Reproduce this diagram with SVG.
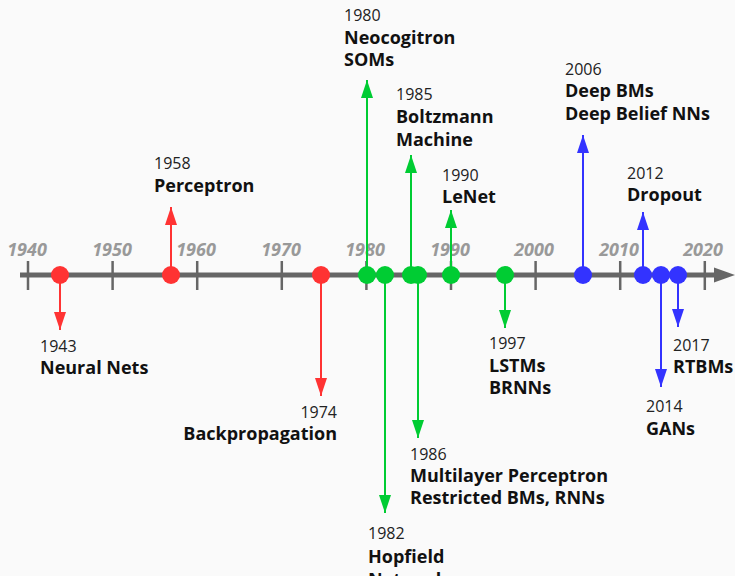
<svg xmlns="http://www.w3.org/2000/svg" width="735" height="576" viewBox="0 0 735 576">
  <style>
    .yr { font-family: "Open Sans", "Noto Sans", sans-serif; font-size: 18px; font-weight: 700; font-style: italic; fill: #999; text-anchor: middle; }
    .date { font-family: "Open Sans", "Noto Sans", sans-serif; font-size: 16px; fill: #222; }
    .name { font-family: "Open Sans", "Noto Sans", sans-serif; font-size: 18px; font-weight: 700; fill: #111; }
    .end { text-anchor: end; }
    .tick { stroke: #666; stroke-width: 2.5; }
    .red { fill: #ff3333; }
    .green { fill: #00cc33; }
    .blue { fill: #3333ff; }
    .lr { stroke: #ff3333; stroke-width: 2; fill: none; marker-end: url(#ah-red); }
    .lg { stroke: #00cc33; stroke-width: 2; fill: none; marker-end: url(#ah-green); }
    .lb { stroke: #3333ff; stroke-width: 2; fill: none; marker-end: url(#ah-blue); }
  </style>
  <defs>
    <marker id="ah-red" markerWidth="18" markerHeight="12" refX="18" refY="6" orient="auto" markerUnits="userSpaceOnUse" viewBox="0 0 18 12">
      <path d="M0,0 L18,6 L0,12 Z" fill="#ff3333"/>
    </marker>
    <marker id="ah-green" markerWidth="18" markerHeight="12" refX="18" refY="6" orient="auto" markerUnits="userSpaceOnUse" viewBox="0 0 18 12">
      <path d="M0,0 L18,6 L0,12 Z" fill="#00cc33"/>
    </marker>
    <marker id="ah-blue" markerWidth="18" markerHeight="12" refX="18" refY="6" orient="auto" markerUnits="userSpaceOnUse" viewBox="0 0 18 12">
      <path d="M0,0 L18,6 L0,12 Z" fill="#3333ff"/>
    </marker>
  </defs>
  <rect width="735" height="576" fill="#fafafa"/>

  <!-- time axis with decade ticks -->
  <g id="axis">
    <line x1="20" y1="275" x2="718" y2="275" stroke="#666" stroke-width="5"/>
    <path d="M714,267.5 L735,275 L714,282.5 Z" fill="#666"/>
    <line class="tick" x1="28" y1="261" x2="28" y2="290"/>
    <line class="tick" x1="112.6" y1="261" x2="112.6" y2="290"/>
    <line class="tick" x1="197.2" y1="261" x2="197.2" y2="290"/>
    <line class="tick" x1="281.8" y1="261" x2="281.8" y2="290"/>
    <line class="tick" x1="366.4" y1="261" x2="366.4" y2="290"/>
    <line class="tick" x1="451" y1="261" x2="451" y2="290"/>
    <line class="tick" x1="535.6" y1="261" x2="535.6" y2="290"/>
    <line class="tick" x1="620.2" y1="261" x2="620.2" y2="290"/>
    <line class="tick" x1="704.8" y1="261" x2="704.8" y2="290"/>
    <text class="yr" x="27" y="256">1940</text>
    <text class="yr" x="112" y="256">1950</text>
    <text class="yr" x="196" y="256">1960</text>
    <text class="yr" x="281" y="256">1970</text>
    <text class="yr" x="365" y="256">1980</text>
    <text class="yr" x="450" y="256">1990</text>
    <text class="yr" x="534" y="256">2000</text>
    <text class="yr" x="619" y="256">2010</text>
    <text class="yr" x="703" y="256">2020</text>
  </g>

  <!-- event stems -->
  <g id="connectors">
    <line class="lr" x1="60" y1="275" x2="60" y2="330"/>
    <line class="lr" x1="171" y1="275" x2="171" y2="207"/>
    <line class="lr" x1="321" y1="275" x2="321" y2="396"/>
    <line class="lg" x1="367" y1="275" x2="367" y2="80"/>
    <line class="lg" x1="385" y1="275" x2="385" y2="513"/>
    <line class="lg" x1="411" y1="275" x2="411" y2="155"/>
    <line class="lg" x1="418" y1="275" x2="418" y2="438"/>
    <line class="lg" x1="451" y1="275" x2="451" y2="210"/>
    <line class="lg" x1="505" y1="275" x2="505" y2="328"/>
    <line class="lb" x1="583" y1="275" x2="583" y2="135"/>
    <line class="lb" x1="643" y1="275" x2="643" y2="212"/>
    <line class="lb" x1="661" y1="275" x2="661" y2="387"/>
    <line class="lb" x1="678" y1="275" x2="678" y2="327"/>
  </g>

  <g id="e1943">
    <circle class="red" cx="60" cy="275" r="9"/>
    <text class="date" x="40" y="352">1943</text>
    <text class="name" x="40" y="374">Neural Nets</text>
  </g>
  <g id="e1958">
    <circle class="red" cx="171" cy="275" r="9"/>
    <text class="date" x="154" y="169">1958</text>
    <text class="name" x="154" y="192">Perceptron</text>
  </g>
  <g id="e1974">
    <circle class="red" cx="321" cy="275" r="9"/>
    <text class="date end" x="337" y="418">1974</text>
    <text class="name end" x="337" y="440">Backpropagation</text>
  </g>
  <g id="e1980">
    <circle class="green" cx="367" cy="275" r="9"/>
    <text class="date" x="344" y="21">1980</text>
    <text class="name" x="344" y="44">Neocogitron</text>
    <text class="name" x="344" y="66">SOMs</text>
  </g>
  <g id="e1982">
    <circle class="green" cx="385" cy="275" r="9"/>
    <text class="date" x="368" y="539">1982</text>
    <text class="name" x="368" y="563">Hopfield</text>
    <text class="name" x="368" y="586">Networks</text>
  </g>
  <g id="e1985">
    <circle class="green" cx="411" cy="275" r="9"/>
    <text class="date" x="396" y="100">1985</text>
    <text class="name" x="396" y="123">Boltzmann</text>
    <text class="name" x="396" y="146">Machine</text>
  </g>
  <g id="e1986">
    <circle class="green" cx="418" cy="275" r="9"/>
    <text class="date" x="410" y="460">1986</text>
    <text class="name" x="410" y="482">Multilayer Perceptron</text>
    <text class="name" x="410" y="504">Restricted BMs, RNNs</text>
  </g>
  <g id="e1990">
    <circle class="green" cx="451" cy="275" r="9"/>
    <text class="date" x="442" y="181">1990</text>
    <text class="name" x="442" y="203">LeNet</text>
  </g>
  <g id="e1997">
    <circle class="green" cx="505" cy="275" r="9"/>
    <text class="date" x="489" y="349">1997</text>
    <text class="name" x="489" y="372">LSTMs</text>
    <text class="name" x="489" y="394">BRNNs</text>
  </g>
  <g id="e2006">
    <circle class="blue" cx="583" cy="275" r="9"/>
    <text class="date" x="565" y="75">2006</text>
    <text class="name" x="565" y="97">Deep BMs</text>
    <text class="name" x="565" y="120">Deep Belief NNs</text>
  </g>
  <g id="e2012">
    <circle class="blue" cx="643" cy="275" r="9"/>
    <text class="date" x="627" y="179">2012</text>
    <text class="name" x="627" y="201">Dropout</text>
  </g>
  <g id="e2014">
    <circle class="blue" cx="661" cy="275" r="9"/>
    <text class="date" x="646" y="412">2014</text>
    <text class="name" x="646" y="435">GANs</text>
  </g>
  <g id="e2017">
    <circle class="blue" cx="678" cy="275" r="9"/>
    <text class="date" x="673" y="351">2017</text>
    <text class="name" x="673" y="373">RTBMs</text>
  </g>
</svg>
